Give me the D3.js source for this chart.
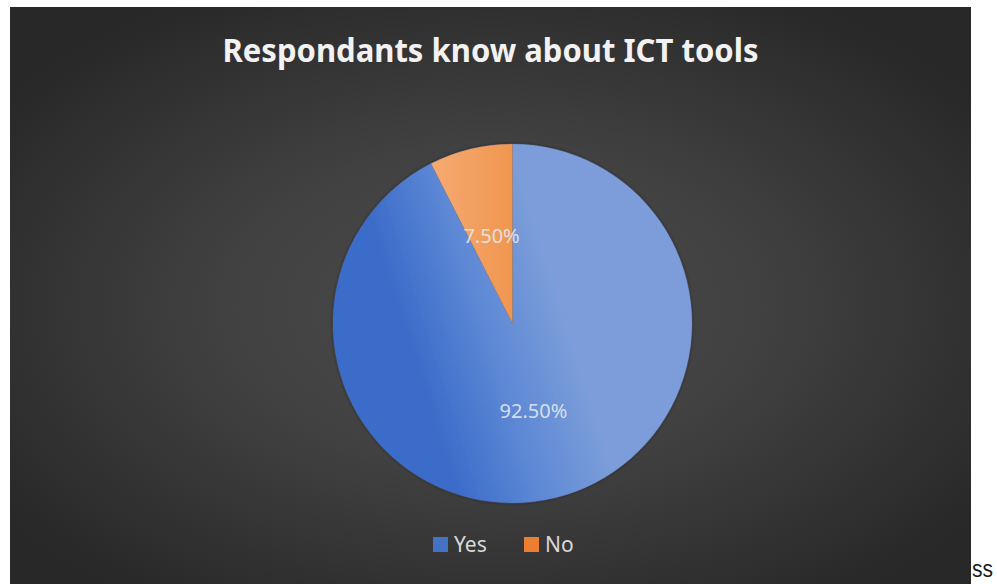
<!DOCTYPE html>
<html>
<head>
<meta charset="utf-8">
<script src="https://cdn.jsdelivr.net/npm/d3@7"></script>
<style>
  html, body { margin: 0; padding: 0; background: #ffffff; }
  svg { display: block; }
</style>
</head>
<body>
<svg id="chart" width="997" height="584"></svg>
<script>
// Survey answers
const categories = ["Yes", "No"];
const values = [92.5, 7.5];
const valueLabels = ["92.50%", "7.50%"];
const chartTitle = "Respondants know about ICT tools";
const trailingText = "ss";

const svg = d3.select("#chart");
const panel = { x: 10, y: 7, w: 961, h: 577 };

const defs = svg.append("defs");

// dark panel with soft light centre
const bg = defs.append("radialGradient").attr("id", "panelGrad")
  .attr("cx", 0.5).attr("cy", 0.52).attr("r", 0.62);
bg.append("stop").attr("offset", 0).attr("stop-color", "#4a4a4a");
bg.append("stop").attr("offset", 0.45).attr("stop-color", "#414141");
bg.append("stop").attr("offset", 1).attr("stop-color", "#282828");

// slice fills: darker blue on the left fading to a light blue on the right
const gYes = defs.append("linearGradient").attr("id", "gradYes")
  .attr("x1", 0.25).attr("y1", 0.67).attr("x2", 0.66).attr("y2", 0.54);
gYes.append("stop").attr("offset", 0).attr("stop-color", "#3b6cc9");
gYes.append("stop").attr("offset", 0.5).attr("stop-color", "#5d88d5");
gYes.append("stop").attr("offset", 1).attr("stop-color", "#7b9dd9");

const gNo = defs.append("linearGradient").attr("id", "gradNo")
  .attr("x1", 0).attr("y1", 0).attr("x2", 1).attr("y2", 0);
gNo.append("stop").attr("offset", 0).attr("stop-color", "#f6aa72");
gNo.append("stop").attr("offset", 1).attr("stop-color", "#f0964f");

const shadow = defs.append("filter").attr("id", "pieShadow")
  .attr("x", -0.1).attr("y", -0.1).attr("width", 1.2).attr("height", 1.2);
shadow.append("feDropShadow").attr("dx", 0).attr("dy", 0)
  .attr("stdDeviation", 1.6).attr("flood-color", "#1a1f2e").attr("flood-opacity", 0.7);

const fills = ["url(#gradYes)", "url(#gradNo)"];
const legendColors = ["#4472c4", "#ed7d31"];

svg.append("rect")
  .attr("x", panel.x).attr("y", panel.y)
  .attr("width", panel.w).attr("height", panel.h)
  .attr("fill", "url(#panelGrad)");

// title
svg.append("text")
  .attr("x", panel.x + panel.w / 2)
  .attr("y", 62)
  .attr("text-anchor", "middle")
  .attr("font-family", "'Noto Sans', 'Open Sans', sans-serif")
  .attr("font-weight", "bold")
  .attr("font-size", 33)
  .attr("textLength", 536)
  .attr("lengthAdjust", "spacingAndGlyphs")
  .attr("fill", "#f2f2f2")
  .text(chartTitle);

// pie
const cx = 512.5, cy = 323.5, radius = 179.5;
const pie = d3.pie().sort(null).value(d => d)(values);
const arc = d3.arc().innerRadius(0).outerRadius(radius);

const g = svg.append("g").attr("transform", `translate(${cx},${cy})`);
g.append("g").attr("filter", "url(#pieShadow)")
  .selectAll("path").data(pie).join("path")
  .attr("d", arc)
  .attr("fill", (d, i) => fills[i])
  .attr("stroke", "#6a7fa8")
  .attr("stroke-opacity", 0.25)
  .attr("stroke-width", 0.8);

g.selectAll("text.val").data(pie).join("text")
  .attr("class", "val")
  .attr("transform", d => `translate(${arc.centroid(d)})`)
  .attr("text-anchor", "middle")
  .attr("dy", "0.36em")
  .attr("font-family", "'Noto Sans', 'Open Sans', sans-serif")
  .attr("font-size", 20)
  .attr("fill", "#e4e9f2")
  .attr("fill-opacity", 0.9)
  .text((d, i) => valueLabels[i]);

// legend
const legendX = d3.scalePoint().domain(categories).range([433, 524]);
const lg = svg.append("g").selectAll("g").data(categories).join("g")
  .attr("transform", d => `translate(${legendX(d)},537)`);
lg.append("rect")
  .attr("width", 15).attr("height", 15)
  .attr("fill", (d, i) => legendColors[i]);
lg.append("text")
  .attr("x", 21).attr("y", 15)
  .attr("font-family", "'Noto Sans', 'Open Sans', sans-serif")
  .attr("font-size", 21)
  .attr("fill", "#d9d9d9")
  .text(d => d);

// stray text to the right of the chart
svg.append("text")
  .attr("x", 972).attr("y", 577)
  .attr("font-family", "'Liberation Sans', Arial, sans-serif")
  .attr("font-size", 24)
  .attr("textLength", 21)
  .attr("lengthAdjust", "spacingAndGlyphs")
  .attr("fill", "#1a1a1a")
  .text(trailingText);
</script>
</body>
</html>
